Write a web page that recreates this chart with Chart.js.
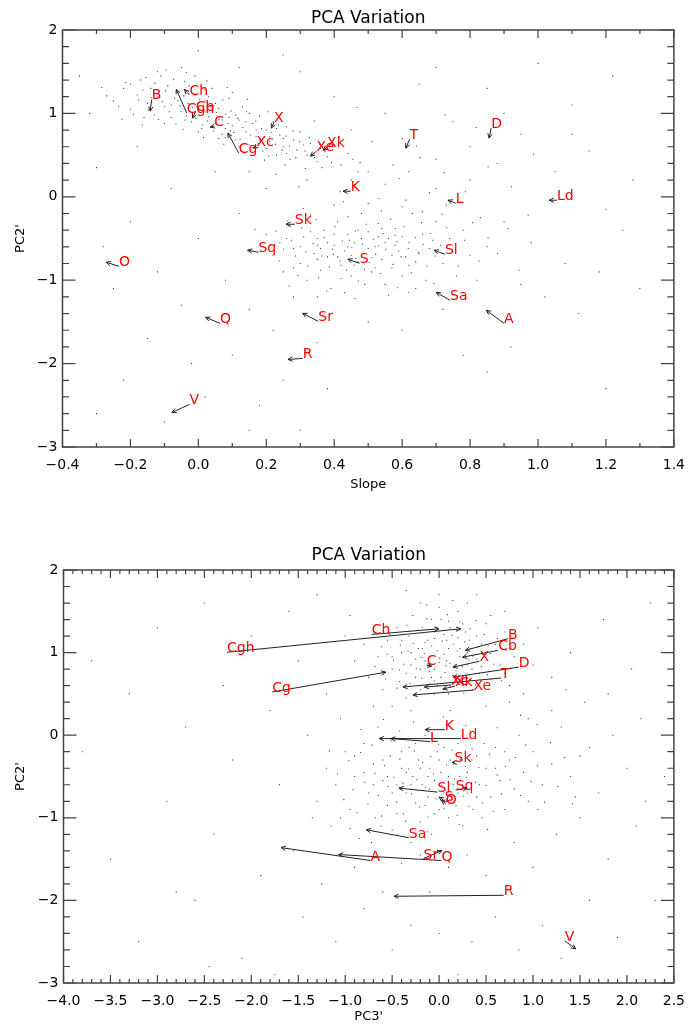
<!DOCTYPE html>
<html>
<head>
<meta charset="utf-8">
<script src="https://cdn.jsdelivr.net/npm/chart.js@4.4.1/dist/chart.umd.min.js"></script>
<style>
  body { margin: 0; background: #fff; }
  canvas { display: block; }
</style>
</head>
<body>
<canvas id="top" width="695" height="510"></canvas>
<canvas id="bottom" width="695" height="517"></canvas>
<script>
// labelled objects: arrow runs from "from" (label spot) to "to" (arrow head)
var names     = ['B','Ch','Cgh','Cb','C','Cg','Xc','X','Xe','Xk','Sk','Sq','O','Q','Sr','R','V','T','D','K','L','Ld','Sl','S','Sa','A'];
var pc2From   = [1.168, 1.220, 1.004, 1.028, 0.848, 0.523, 0.607, 0.896, 0.547, 0.595, -0.329, -0.665, -0.833, -1.517, -1.493, -1.938, -2.490, 0.692, 0.824, 0.067, -0.077, -0.041, -0.689, -0.797, -1.241, -1.517];
var pc2To     = [1.028, 1.288, 1.288, 0.944, 0.836, 0.763, 0.583, 0.824, 0.487, 0.559, -0.329, -0.641, -0.785, -1.445, -1.397, -1.950, -2.586, 0.583, 0.703, 0.067, -0.041, -0.041, -0.641, -0.749, -1.145, -1.361];
var slopeFrom = [-0.137, -0.026, -0.034, -0.008, 0.047, 0.119, 0.171, 0.223, 0.348, 0.379, 0.284, 0.177, -0.234, 0.064, 0.353, 0.307, -0.026, 0.622, 0.862, 0.449, 0.758, 1.056, 0.726, 0.475, 0.741, 0.900];
var slopeTo   = [-0.142, -0.041, -0.065, -0.017, 0.035, 0.087, 0.162, 0.215, 0.330, 0.368, 0.258, 0.145, -0.271, 0.021, 0.307, 0.264, -0.078, 0.611, 0.856, 0.426, 0.735, 1.033, 0.694, 0.440, 0.700, 0.848];
var pc3From   = [0.733, -0.717, -2.258, 0.629, -0.132, -1.777, 0.127, 0.430, 0.367, 0.168, 0.165, 0.176, 0.07, 0.025, -0.166, 0.688, 1.337, 0.660, 0.848, 0.061, -0.096, 0.231, -0.017, 0.06, -0.323, -0.731];
var pc3To     = [0.28, -0.002, 0.231, 0.25, -0.08, -0.567, -0.156, 0.147, -0.278, 0.04, 0.14, 0.30, 0.03, -1.07, 0.03, -0.48, 1.455, -0.385, 0.15, -0.149, -0.515, -0.637, -0.428, 0.0, -0.776, -1.683];

// tick labels
var slopeTicks = [-0.4, -0.2, 0.0, 0.2, 0.4, 0.6, 0.8, 1.0, 1.2, 1.4];
var pc2Ticks   = [-3, -2, -1, 0, 1, 2];
var pc3Ticks   = [-4.0, -3.5, -3.0, -2.5, -2.0, -1.5, -1.0, -0.5, 0.0, 0.5, 1.0, 1.5, 2.0, 2.5];

// background sample (Slope, PC2')
var cloudTop = [
  [-0.25,1.15],[-0.22,1.3],[-0.2,1.05],[-0.18,1.22],[-0.17,1.4],[-0.15,1.12],[-0.14,1.3],[-0.13,0.98],[-0.12,1.2],[-0.11,1.45],
  [-0.1,1.08],[-0.09,1.33],[-0.08,0.95],[-0.07,1.18],[-0.06,1.25],[-0.05,1.02],[-0.04,1.38],[-0.03,1.12],[-0.02,0.9],[-0.01,1.22],
  [0.0,1.05],[0.01,0.82],[0.02,1.15],[0.03,0.96],[0.04,1.3],[0.05,0.88],[0.06,1.06],[0.07,0.75],[0.08,0.99],[0.09,1.18],
  [0.1,0.85],[0.11,0.68],[0.12,0.92],[0.13,1.08],[0.14,0.78],[0.15,0.62],[0.16,0.88],[0.17,0.72],[0.18,0.97],[0.19,0.55],
  [0.2,0.8],[0.21,0.66],[0.22,0.9],[0.23,0.5],[0.24,0.74],[0.25,0.6],[0.26,0.84],[0.27,0.45],[0.28,0.68],[0.29,0.56],
  [0.3,0.78],[0.32,0.5],[0.33,0.64],[0.35,0.42],[0.36,0.58],[0.38,0.48],[0.4,0.62],[0.42,0.38],[0.44,0.52],[0.47,0.3],
  [-0.2,1.35],[-0.16,0.95],[-0.12,1.5],[-0.08,1.1],[-0.04,0.92],[-0.01,1.45],[0.03,1.2],[0.06,0.7],[0.09,0.95],[0.12,0.6],
  [0.15,1.0],[0.18,0.68],[0.2,0.58],[0.23,0.82],[0.26,0.52],[0.1,1.25],[0.0,0.78],[-0.05,1.55],[0.14,0.9],[0.05,1.12],
  [-0.1,0.88],[0.17,0.8],[0.07,0.92],[0.02,1.02],[-0.06,1.15],[0.11,0.98],[0.21,0.72],[0.25,0.7],[0.31,0.62],[0.08,0.82],
  [-0.27,1.21],[-0.235,1.08],[-0.213,1.37],[-0.191,0.99],[-0.176,1.16],[-0.163,1.28],[-0.147,1.04],[-0.139,1.19],[-0.128,1.36],[-0.117,0.93],
  [-0.106,1.14],[-0.097,1.27],[-0.086,1.02],[-0.073,1.41],[-0.066,0.87],[-0.054,1.09],[-0.043,1.21],[-0.036,0.97],[-0.027,1.33],[-0.018,1.07],
  [-0.007,0.94],[0.004,1.17],[0.013,0.86],[0.019,1.28],[0.027,0.91],[0.036,1.09],[0.044,0.79],[0.053,1.01],[0.061,0.93],[0.072,1.16],
  [0.079,0.71],[0.087,0.88],[0.096,1.03],[0.104,0.77],[0.116,0.94],[0.123,0.69],[0.131,0.83],[0.142,1.02],[0.153,0.74],[0.161,0.59],
  [0.169,0.91],[0.177,0.64],[0.186,0.82],[0.194,0.71],[0.207,0.49],[0.216,0.77],[0.227,0.63],[0.236,0.86],[0.247,0.56],[0.258,0.73],
  [0.268,0.61],[0.279,0.79],[0.287,0.47],[0.298,0.66],[0.314,0.55],[0.327,0.71],[0.342,0.47],[0.357,0.63],[0.373,0.54],[0.392,0.41],
  [-0.155,1.43],[-0.095,1.52],[-0.035,1.49],[0.025,1.39],[0.085,1.31],[0.145,1.17],[0.205,1.02],[-0.225,0.93],[-0.165,0.86],[-0.045,0.81],
  [0.015,0.71],[0.075,0.63],[0.135,0.52],[0.195,0.44],[0.255,0.38],[0.315,0.34],[-0.285,1.31],[0.415,0.71],[0.455,0.45],[0.095,0.79],
  [0.2,-0.45],[0.22,-0.7],[0.24,-0.55],[0.25,-0.9],[0.27,-0.35],[0.28,-0.62],[0.3,-0.8],[0.31,-0.48],[0.32,-1.0],[0.33,-0.22],
  [0.34,-0.68],[0.35,-0.5],[0.36,-0.88],[0.37,-0.4],[0.38,-0.72],[0.39,-1.1],[0.4,-0.58],[0.41,-0.3],[0.42,-0.82],[0.43,-0.65],
  [0.44,-0.45],[0.45,-0.95],[0.46,-0.55],[0.47,-0.78],[0.48,-0.2],[0.49,-0.68],[0.5,-0.42],[0.51,-0.9],[0.52,-0.6],[0.53,-0.32],
  [0.54,-0.75],[0.55,-1.05],[0.56,-0.5],[0.57,-0.85],[0.58,-0.38],[0.59,-0.65],[0.6,-0.95],[0.62,-0.55],[0.63,-0.2],[0.64,-0.78],
  [0.66,-0.45],[0.67,-1.0],[0.68,-0.62],[0.7,-0.3],[0.72,-0.8],[0.74,-0.5],[0.76,-0.95],[0.78,-0.4],[0.8,-0.7],[0.83,-0.25],
  [0.3,-0.6],[0.35,-0.75],[0.4,-0.45],[0.42,-0.98],[0.45,-0.7],[0.47,-0.4],[0.5,-0.62],[0.52,-0.85],[0.55,-0.55],[0.57,-0.7],
  [0.6,-0.48],[0.62,-0.82],[0.38,-0.55],[0.44,-0.6],[0.48,-0.5],[0.53,-0.48],[0.46,-0.82],[0.36,-0.62],[0.58,-0.58],[0.65,-0.68],
  [0.28,-0.85],[0.33,-0.42],[0.41,-0.72],[0.49,-1.05],[0.54,-0.38],[0.61,-0.72],[0.69,-0.52],[0.26,-0.5],[0.43,-1.15],[0.56,-1.18],
  [0.35,-1.2],[0.64,-1.1],[0.5,-0.08],[0.4,-0.1],[0.6,-0.12],[0.7,0.1],[0.55,0.15],[0.62,0.3],[0.5,0.3],[0.45,0.2],[0.66,-0.18],
  [0.213,-0.58],[0.229,-0.41],[0.238,-0.77],[0.251,-0.63],[0.263,-0.29],[0.274,-0.52],[0.286,-0.71],[0.293,-0.94],[0.304,-0.37],[0.316,-0.66],
  [0.322,-0.83],[0.338,-0.56],[0.347,-0.27],[0.354,-0.97],[0.363,-0.71],[0.371,-0.49],[0.386,-0.84],[0.394,-0.63],[0.402,-0.36],[0.417,-0.77],
  [0.424,-0.53],[0.436,-0.88],[0.441,-0.24],[0.452,-0.61],[0.463,-0.74],[0.471,-1.01],[0.483,-0.57],[0.494,-0.33],[0.503,-0.79],[0.516,-0.51],
  [0.522,-0.69],[0.537,-0.92],[0.544,-0.44],[0.552,-0.63],[0.566,-0.27],[0.573,-0.81],[0.585,-0.54],[0.597,-0.72],[0.606,-0.36],[0.618,-0.62],
  [0.627,-0.91],[0.639,-0.49],[0.648,-0.67],[0.657,-0.31],[0.673,-0.83],[0.684,-0.44],[0.697,-0.71],[0.713,-0.58],[0.731,-0.37],[0.748,-0.66],
  [0.765,-0.83],[0.784,-0.52],[0.807,-0.31],[0.826,-0.77],[0.853,-0.49],[0.881,-0.68],[0.912,-0.38],[0.267,-1.07],[0.378,-1.13],[0.461,-1.22],
  [0.587,-1.09],[0.693,-1.04],[0.309,-0.14],[0.427,-0.06],[0.539,-0.17],[0.611,-0.04],[0.718,-0.21],[0.463,-0.41],[0.511,-0.73],[0.397,-0.69],
  [0.579,-0.46],[0.351,-0.58],[0.445,-0.52],[0.531,-0.59],[0.489,-0.87],[0.662,-0.57],[0.183,-0.66],[0.167,-0.39],[0.944,-0.88],[0.971,-0.22],
  [0.228,0.27],[0.296,0.12],[0.364,0.35],[0.418,0.06],[0.476,0.41],[0.532,-0.02],[0.591,0.22],[0.653,0.47],[0.724,0.29],[0.786,0.06],
  [0.853,0.36],[0.922,0.12],[0.987,0.51],[0.341,0.91],[0.511,0.66],[0.573,0.38],[0.642,0.61],[0.818,0.83],[0.726,0.98],[0.467,1.07],
  [-0.35,1.45],[-0.3,0.35],[-0.28,-0.6],[-0.25,-1.1],[-0.22,-2.2],[-0.2,-0.3],[-0.18,0.6],[-0.15,-1.7],[-0.12,-0.9],[-0.1,-2.7],
  [-0.08,0.1],[-0.05,-1.3],[-0.02,-2.0],[0.0,-0.5],[0.02,-2.4],[0.05,0.3],[0.08,-1.0],[0.1,-1.9],[0.12,-0.2],[0.15,-1.35],
  [0.18,-2.5],[0.2,0.1],[0.22,-1.6],[0.25,-2.2],[0.28,-1.2],[0.3,1.5],[0.35,-1.75],[0.4,1.2],[0.45,0.8],[0.5,-1.5],
  [0.55,1.0],[0.6,0.7],[0.65,1.35],[0.7,0.45],[0.72,-1.35],[0.75,0.9],[0.8,0.2],[0.82,-1.0],[0.85,1.3],[0.88,0.4],
  [0.9,-0.3],[0.92,-1.8],[0.95,0.75],[0.98,-0.55],[1.0,1.6],[1.02,-1.2],[1.05,0.3],[1.08,-0.8],[1.1,1.1],[1.12,-1.4],
  [1.15,0.55],[1.18,-0.9],[1.2,-0.15],[1.22,1.45],[1.25,-0.4],[1.28,0.2],[1.3,-1.1],[0.25,1.7],[0.0,1.75],[-0.32,1.0],
  [0.38,-2.3],[0.6,-1.6],[0.3,-2.8],[-0.3,-2.6],[0.15,-2.8],[0.85,-2.1],[1.2,-2.3],[0.12,1.55],[0.7,1.55],[0.9,1.0],
  [0.78,-1.9],[0.68,0.05],[0.32,0.2],[0.15,0.3],[0.62,-1.15],[0.73,-0.1],[0.85,-0.6],[0.95,-1.05],[0.8,0.6],[1.1,0.75]
];

// background sample (PC3', PC2')
var cloudBottom = [
  [-0.9,0.9],[-0.8,1.1],[-0.75,0.7],[-0.7,1.25],[-0.65,0.95],[-0.6,0.55],[-0.55,1.15],[-0.5,0.8],[-0.45,1.3],[-0.42,0.65],
  [-0.4,1.0],[-0.35,0.45],[-0.32,1.2],[-0.3,0.85],[-0.28,1.45],[-0.25,0.7],[-0.22,1.05],[-0.2,0.55],[-0.18,1.3],[-0.15,0.9],
  [-0.12,1.15],[-0.1,0.62],[-0.08,1.4],[-0.05,0.8],[-0.02,1.02],[0.0,1.55],[0.02,0.7],[0.05,1.22],[0.08,0.9],[0.1,1.38],
  [0.12,0.58],[0.15,1.1],[0.18,0.78],[0.2,1.5],[0.22,0.95],[0.25,0.65],[0.28,1.25],[0.3,0.85],[0.33,1.05],[0.36,0.55],
  [0.4,1.2],[0.43,0.75],[0.46,0.98],[0.5,1.35],[0.55,0.68],[0.6,1.1],[0.65,0.85],[0.7,1.25],[0.75,0.6],[0.8,0.95],
  [-0.3,1.0],[-0.2,0.8],[-0.1,0.95],[0.0,0.88],[0.1,1.05],[0.2,1.18],[0.3,1.0],[-0.05,1.25],[0.15,0.72],[0.05,0.98],
  [-0.15,1.12],[0.25,1.35],[-0.25,0.92],[0.35,0.8],[-0.35,0.75],[0.12,1.3],[-0.08,0.7],[0.4,0.92],[0.02,1.4],[-0.4,1.15],
  [0.18,0.85],[-0.12,0.85],[0.08,1.15],[0.28,0.72],[-0.02,0.6],[0.22,1.05],[-0.18,1.05],[0.32,1.15],[0.45,1.1],[-0.5,0.95],
  [0.1,0.5],[-0.05,0.5],[0.0,1.7],[0.3,1.6],[-0.2,1.6],[0.55,1.45],[0.7,0.75],[0.9,1.1],[1.0,0.85],[-1.0,1.2],
  [-0.683,0.83],[-0.612,1.07],[-0.571,0.68],[-0.523,1.22],[-0.486,0.91],[-0.447,0.57],[-0.413,1.09],[-0.376,0.86],[-0.343,1.33],[-0.309,0.63],
  [-0.276,1.11],[-0.243,0.81],[-0.217,1.27],[-0.186,0.69],[-0.158,0.99],[-0.131,1.41],[-0.104,0.77],[-0.079,1.08],[-0.053,0.66],[-0.026,1.31],
  [0.007,0.93],[0.034,1.14],[0.061,0.76],[0.087,1.46],[0.113,0.87],[0.139,1.21],[0.167,0.64],[0.193,1.02],[0.219,1.37],[0.246,0.83],
  [0.273,1.13],[0.301,0.69],[0.329,1.29],[0.357,0.96],[0.386,0.61],[0.417,1.07],[0.448,0.83],[0.481,1.22],[0.514,0.73],[0.547,0.99],
  [0.583,0.86],[0.621,1.17],[0.664,0.66],[0.712,1.03],[0.766,0.81],[-0.133,1.58],[0.146,1.63],[0.042,0.52],[-0.247,0.49],[0.263,0.51],
  [-0.052,1.17],[0.071,0.84],[-0.191,0.94],[0.184,1.27],[0.316,0.91],[-0.331,1.02],[0.392,1.39],[-0.422,0.79],[0.523,1.08],[-0.553,0.98],
  [-1.3,-0.8],[-1.2,-0.4],[-1.15,-1.1],[-1.1,-0.6],[-1.0,-0.2],[-0.95,-0.9],[-0.9,-0.5],[-0.85,-1.25],[-0.8,-0.1],[-0.75,-0.7],
  [-0.7,-0.35],[-0.68,-1.0],[-0.65,0.1],[-0.6,-0.55],[-0.55,-0.85],[-0.52,-0.25],[-0.5,-1.15],[-0.45,-0.6],[-0.42,0.05],[-0.4,-0.4],
  [-0.38,-0.95],[-0.35,-0.7],[-0.32,-0.15],[-0.3,-1.3],[-0.28,-0.5],[-0.25,-0.82],[-0.22,-0.3],[-0.2,-1.05],[-0.18,-0.6],[-0.15,0.0],
  [-0.12,-0.75],[-0.1,-0.4],[-0.08,-1.2],[-0.05,-0.55],[-0.02,-0.2],[0.0,-0.9],[0.02,-0.45],[0.05,-0.7],[0.08,0.15],[0.1,-1.0],
  [0.12,-0.3],[0.15,-0.6],[0.18,-0.85],[0.2,-0.1],[0.22,-0.5],[0.25,-1.1],[0.28,-0.38],[0.3,-0.7],[0.33,0.05],[0.36,-0.9],
  [0.4,-0.25],[0.43,-0.6],[0.46,-1.0],[0.5,-0.4],[0.55,-0.75],[0.6,-0.15],[0.65,-0.55],[0.7,-0.9],[0.75,-0.3],[0.8,-0.65],
  [0.85,0.0],[0.9,-0.45],[0.95,-0.8],[1.0,-0.2],[1.1,-0.6],[1.2,-0.35],[1.3,0.1],[1.4,-0.5],[1.5,-0.25],
  [-0.6,-0.3],[-0.5,-0.7],[-0.4,-0.2],[-0.3,-0.6],[-0.2,-0.4],[-0.1,-0.65],[0.0,-0.3],[0.1,-0.5],[0.2,-0.7],[0.3,-0.45],
  [-0.45,-0.95],[-0.35,-0.45],[-0.25,-0.1],[-0.15,-0.85],[-0.05,-0.95],[0.05,-0.15],[0.15,-0.35],[0.25,-0.6],[0.35,-0.3],[-0.7,-0.6],
  [-0.8,-0.45],[-0.55,-0.5],[-0.12,-0.5],[0.08,-0.8],[0.4,-0.75],[0.6,-0.4],[-0.9,-0.25],[-0.62,-1.1],[0.48,-0.1],[0.7,-0.2],
  [1.05,-0.9],[0.95,0.2],[-1.05,-1.0],[-0.72,-1.3],[0.12,0.3],[-0.3,0.3],[0.5,0.35],[0.75,0.4],[-0.5,0.35],[1.2,0.3],
  [-1.083,-0.47],[-1.014,-0.78],[-0.962,-0.31],[-0.917,-0.66],[-0.873,-0.94],[-0.836,-0.21],[-0.792,-0.57],[-0.758,-0.83],[-0.716,-0.12],[-0.683,-0.46],
  [-0.647,-0.73],[-0.613,-0.98],[-0.581,-0.37],[-0.546,-0.62],[-0.514,-0.07],[-0.482,-0.51],[-0.451,-0.81],[-0.418,-0.29],[-0.386,-0.58],[-0.357,-1.04],
  [-0.326,-0.41],[-0.293,-0.71],[-0.263,-0.19],[-0.236,-0.54],[-0.208,-0.87],[-0.177,-0.33],[-0.146,-0.63],[-0.118,-0.99],[-0.089,-0.26],[-0.061,-0.47],
  [-0.033,-0.77],[-0.006,-0.11],[0.023,-0.61],[0.051,-0.89],[0.079,-0.36],[0.107,-0.72],[0.136,-0.18],[0.164,-0.53],[0.193,-0.97],[0.226,-0.29],
  [0.257,-0.74],[0.289,-0.51],[0.318,-0.86],[0.352,-0.17],[0.387,-0.57],[0.423,-0.39],[0.461,-0.82],[0.498,-0.61],[0.536,-0.23],[0.577,-0.92],
  [0.618,-0.48],[0.663,-0.71],[0.709,-0.38],[0.757,-0.54],[0.812,-0.27],[0.867,-0.73],[0.923,-0.12],[0.981,-0.56],[1.047,-0.37],[1.123,-0.81],
  [1.186,-0.09],[1.264,-0.62],[1.337,-0.27],[1.421,-0.83],[-1.167,-0.19],[-0.947,-1.13],[-0.438,-1.21],[-0.127,-1.17],[0.214,-1.08],[0.517,-1.14],
  [-0.274,0.16],[0.046,0.22],[0.283,0.12],[0.618,0.09],[-0.593,0.19],[0.867,0.24],[-0.833,0.07],[1.043,0.13],
  [-3.5,-1.5],[-3.3,0.5],[-3.2,-2.5],[-3.0,1.3],[-2.9,-0.8],[-2.7,0.1],[-2.6,-2.0],[-2.5,1.6],[-2.4,-1.2],[-2.3,0.6],
  [-2.2,-0.3],[-2.1,-2.7],[-2.0,1.2],[-1.9,-1.7],[-1.8,0.3],[-1.75,-2.9],[-1.7,-0.6],[-1.6,1.5],[-1.55,-1.4],[-1.5,0.9],
  [-1.45,-2.2],[-1.4,0.0],[-1.35,-1.0],[-1.3,1.7],[-1.25,-1.8],[-1.2,0.5],[-1.1,-2.5],[-1.05,0.2],[-0.95,1.45],[-0.9,-1.6],
  [-0.8,-2.1],[-0.7,0.35],[-0.6,-1.9],[-0.5,-2.6],[-0.4,-1.55],[-0.35,1.75],[-0.3,-2.3],[-0.2,-1.45],[-0.1,-1.9],[0.0,-2.4],
  [0.1,-1.6],[0.2,-2.9],[0.3,-1.45],[0.35,-2.5],[0.4,1.7],[0.5,-1.7],[0.6,-2.2],[0.7,1.5],[0.8,-1.3],[0.85,-2.6],
  [0.9,0.5],[1.0,-1.6],[1.05,1.3],[1.1,-2.3],[1.2,0.7],[1.25,-1.2],[1.3,-2.7],[1.4,1.0],[1.5,-1.0],[1.55,0.4],
  [1.6,-2.0],[1.7,-0.7],[1.75,1.4],[1.8,-1.5],[1.85,0.0],[1.9,-2.45],[2.0,-0.4],[2.05,0.8],[2.1,-1.1],[2.2,-0.8],
  [2.25,1.6],[2.3,-2.0],[2.4,-0.5],[1.35,0.55],[1.6,-0.15],[1.45,-0.75],[1.8,0.5],[2.15,0.2],[-2.8,-1.9],[-3.7,0.9],
  [-3.8,-0.2],[-2.45,-2.8]
];

var tickFont = { family: 'DejaVu Sans', size: 14 };

function fmt(v, dec) {
  return v.toFixed(dec).replace('-', '\u2212');
}

// labels, arrows, box with inward ticks, titles
function idlPlugin(cfg) {
  return {
    id: 'idl_' + cfg.key,
    afterDatasetsDraw: function (chart) {
      var ctx = chart.ctx, a = chart.chartArea;
      var xs = chart.scales.x, ys = chart.scales.y;
      ctx.save();

      // arrows
      ctx.strokeStyle = '#222';
      ctx.lineWidth = 1;
      names.forEach(function (n, i) {
        var x0 = xs.getPixelForValue(cfg.xFrom[i]), y0 = ys.getPixelForValue(pc2From[i]);
        var x1 = xs.getPixelForValue(cfg.xTo[i]), y1 = ys.getPixelForValue(pc2To[i]);
        var ang = Math.atan2(y1 - y0, x1 - x0), h = 5;
        ctx.beginPath();
        ctx.moveTo(x0, y0);
        ctx.lineTo(x1, y1);
        ctx.moveTo(x1, y1);
        ctx.lineTo(x1 - h * Math.cos(ang - 0.45), y1 - h * Math.sin(ang - 0.45));
        ctx.moveTo(x1, y1);
        ctx.lineTo(x1 - h * Math.cos(ang + 0.45), y1 - h * Math.sin(ang + 0.45));
        ctx.stroke();
      });

      // red labels at the tail
      ctx.fillStyle = '#ff0000';
      ctx.font = '14px "DejaVu Sans"';
      ctx.textAlign = 'left';
      ctx.textBaseline = 'alphabetic';
      names.forEach(function (n, i) {
        ctx.fillText(n, xs.getPixelForValue(cfg.xFrom[i]), ys.getPixelForValue(pc2From[i]));
      });

      // box
      ctx.strokeStyle = '#444';
      ctx.lineWidth = 1.5;
      ctx.strokeRect(a.left, a.top, a.right - a.left, a.bottom - a.top);

      // inward ticks
      ctx.lineWidth = 1.2;
      var nx = Math.round((xs.max - xs.min) / cfg.xMinor);
      for (var i = 0; i <= nx; i++) {
        var v = xs.min + i * cfg.xMinor;
        var len = (i % cfg.xPer === 0) ? 8 : 4;
        var px = xs.getPixelForValue(v);
        ctx.beginPath();
        ctx.moveTo(px, a.bottom); ctx.lineTo(px, a.bottom - len);
        ctx.moveTo(px, a.top); ctx.lineTo(px, a.top + len);
        ctx.stroke();
      }
      var ny = Math.round((ys.max - ys.min) / cfg.yMinor);
      for (var j = 0; j <= ny; j++) {
        var w = ys.min + j * cfg.yMinor;
        var ylen = (j % cfg.yPer === 0) ? 13 : 6.5;
        var py = ys.getPixelForValue(w);
        ctx.beginPath();
        ctx.moveTo(a.left, py); ctx.lineTo(a.left + ylen, py);
        ctx.moveTo(a.right, py); ctx.lineTo(a.right - ylen, py);
        ctx.stroke();
      }

      // titles
      ctx.fillStyle = '#000';
      ctx.textAlign = 'center';
      ctx.font = '17px "DejaVu Sans"';
      ctx.fillText('PCA Variation', (a.left + a.right) / 2, a.top - cfg.titleGap);
      ctx.font = '13px "DejaVu Sans"';
      ctx.fillText(cfg.xTitle, (a.left + a.right) / 2, a.bottom + cfg.xTitleGap);
      ctx.translate(24, (a.top + a.bottom) / 2);
      ctx.rotate(-Math.PI / 2);
      ctx.fillText("PC2'", 0, 0);
      ctx.restore();
    }
  };
}

function makeChart(el, cfg) {
  return new Chart(document.getElementById(el), {
    type: 'scatter',
    data: {
      datasets: [{
        data: cfg.cloud.map(function (p) { return { x: p[0], y: p[1] }; }),
        pointStyle: 'rect',
        pointRadius: 0.75,
        borderWidth: 0,
        backgroundColor: '#404040'
      }]
    },
    options: {
      responsive: false,
      animation: false,
      devicePixelRatio: 1,
      layout: { padding: { top: cfg.padTop, right: 10, left: 0, bottom: 0 } },
      plugins: { legend: { display: false }, tooltip: { enabled: false } },
      events: [],
      scales: {
        x: {
          type: 'linear',
          min: cfg.xTicks[0],
          max: cfg.xTicks[cfg.xTicks.length - 1],
          afterBuildTicks: function (s) { s.ticks = cfg.xTicks.map(function (v) { return { value: v }; }); },
          afterFit: function (s) { s.height = cfg.xHeight; },
          grid: { display: false, drawTicks: false },
          border: { display: false },
          ticks: {
            font: tickFont, color: '#000', padding: 10, maxRotation: 0, autoSkip: false,
            callback: function (v) { return fmt(v, 1); }
          }
        },
        y: {
          type: 'linear',
          min: -3,
          max: 2,
          afterBuildTicks: function (s) { s.ticks = pc2Ticks.map(function (v) { return { value: v }; }); },
          afterFit: function (s) { s.width = cfg.yWidth; },
          grid: { display: false, drawTicks: false },
          border: { display: false },
          ticks: {
            font: tickFont, color: '#000', padding: 5,
            callback: function (v) { return fmt(v, 0); }
          }
        }
      }
    },
    plugins: [idlPlugin(cfg)]
  });
}

makeChart('top', {
  key: 'top', cloud: cloudTop, xTicks: slopeTicks, xFrom: slopeFrom, xTo: slopeTo,
  padTop: 30, xHeight: 63, yWidth: 62.5, xMinor: 0.1, xPer: 2, yMinor: 0.2, yPer: 5,
  titleGap: 7, xTitle: 'Slope', xTitleGap: 41
});

makeChart('bottom', {
  key: 'bottom', cloud: cloudBottom, xTicks: pc3Ticks, xFrom: pc3From, xTo: pc3To,
  padTop: 60, xHeight: 44, yWidth: 63.5, xMinor: 0.1, xPer: 5, yMinor: 0.2, yPer: 5,
  titleGap: 10, xTitle: "PC3'", xTitleGap: 37
});
</script>
</body>
</html>
